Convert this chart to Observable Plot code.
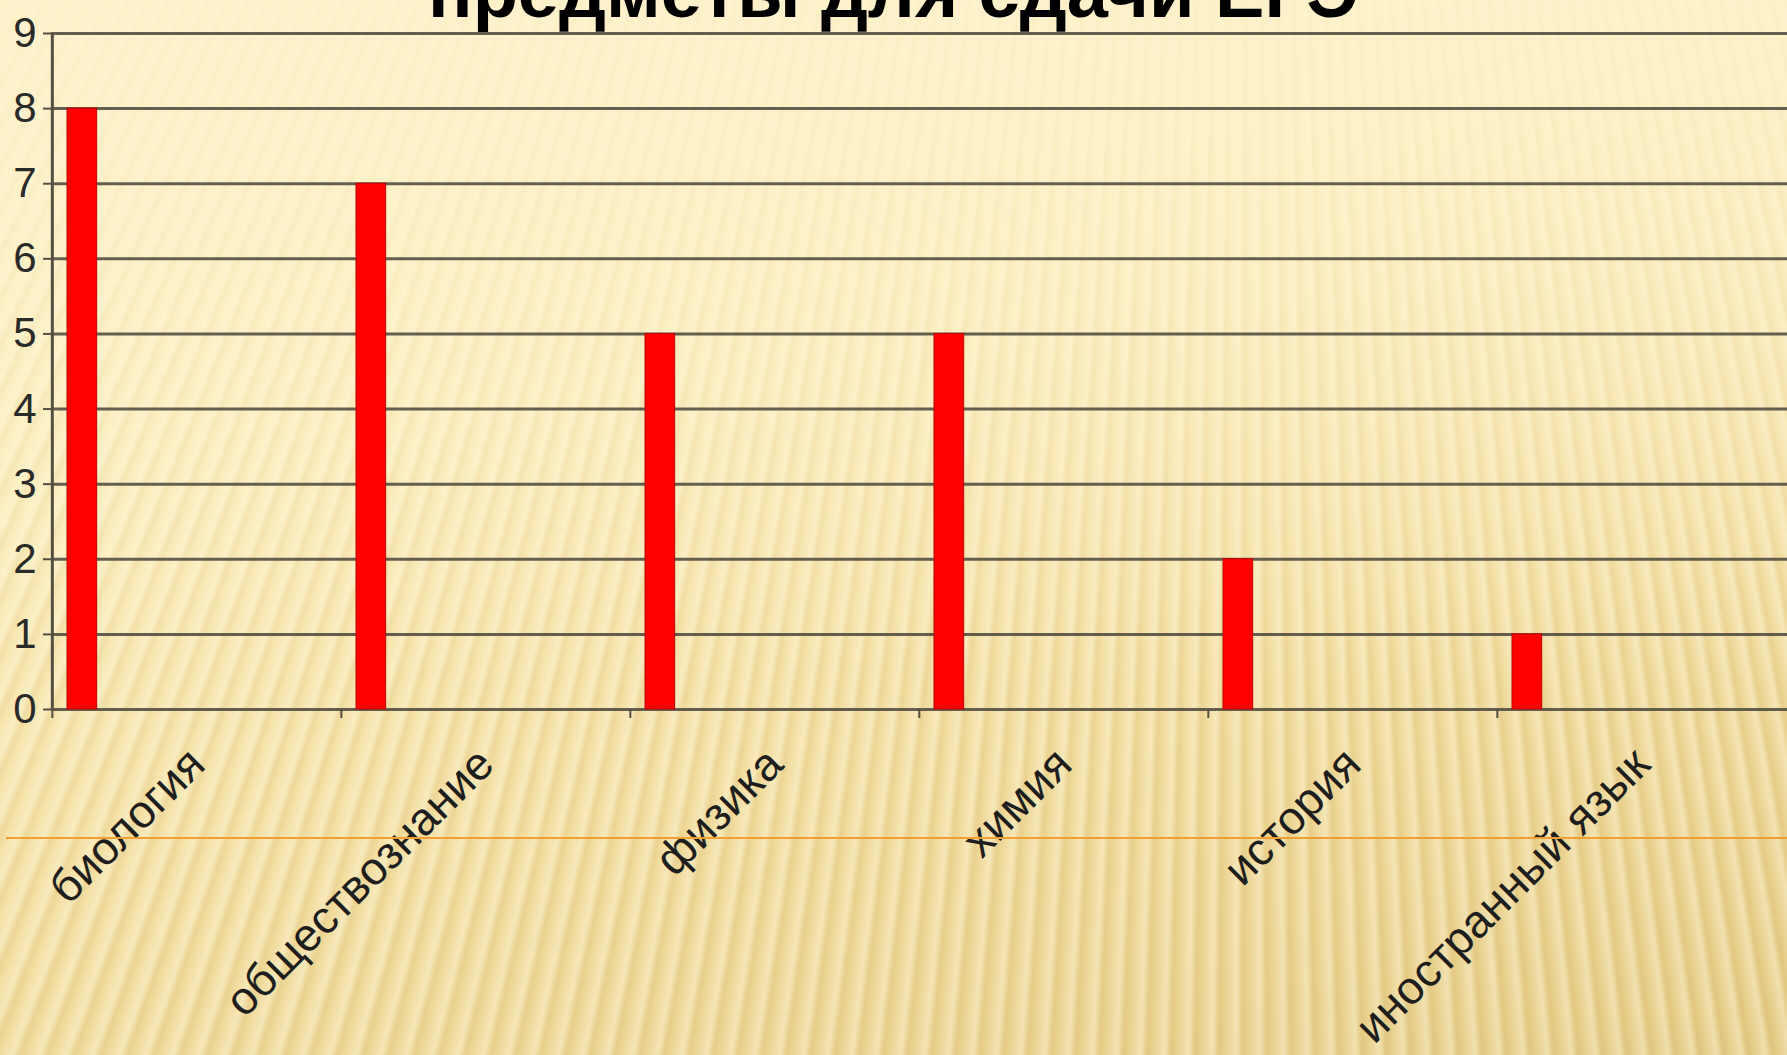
<!DOCTYPE html>
<html><head><meta charset="utf-8">
<script src="https://cdn.jsdelivr.net/npm/d3@7"></script>
<script src="https://cdn.jsdelivr.net/npm/@observablehq/plot@0.6"></script>
<style>
html,body{margin:0;padding:0;width:1787px;height:1055px;overflow:hidden;}
body{position:relative;font-family:"Liberation Sans",Arial,sans-serif;
 background:
  linear-gradient(to bottom, rgba(253,242,204,0.8) 0%, rgba(253,242,204,0.4) 35%, rgba(253,242,204,0) 65%),
  repeating-conic-gradient(from 150deg at 1250px -2200px, rgba(255,250,225,0.45) 0deg, rgba(255,250,225,0.05) 0.2deg, rgba(180,140,50,0.09) 0.3deg, rgba(255,250,225,0.45) 0.42deg),
  linear-gradient(165deg, #fdf1c8 0%, #faeab6 35%, #f1db9c 65%, #e3c982 100%);
}
#chart{position:absolute;left:0;top:0;}
#chart svg{display:block;background:transparent;}
#title{position:absolute;left:0;right:0;top:-45px;text-align:center;font-size:74px;line-height:74px;font-weight:bold;color:#000;margin:0;}
#orange{position:absolute;left:6px;right:0;top:837px;height:2px;background:#f0a033;}
</style></head>
<body>
<div id="chart"></div>
<div id="title"></div>
<div id="orange"></div>
<script>
const title = "предметы для сдачи ЕГЭ";
const subjects = ["биология","обществознание","физика","химия","история","иностранный язык"];
const counts = [8,7,5,5,2,1];
const yTicks = [0,1,2,3,4,5,6,7,8,9];

document.getElementById("title").textContent = title;
const data = subjects.map((s,i)=>({subject:s, count:counts[i]}));
const W=1787, H=1055, mL=51, mT=33, mB=346;
const bw = (W-mL)/subjects.length;
const gridColor = "#534f42";
const chart = Plot.plot({
  width:W, height:H, marginLeft:mL, marginRight:0, marginTop:mT, marginBottom:mB,
  style:{background:"transparent", fontFamily:"'Liberation Sans', Arial, sans-serif", color:"#222"},
  x:{domain:subjects, padding:0, label:null},
  y:{domain:[0,9], label:null},
  marks:[
    Plot.ruleY(yTicks,{y:d=>d, stroke:gridColor, strokeWidth:3, strokeOpacity:0.9}),
    Plot.ruleX([subjects[0]],{x:d=>d, dx:-bw/2, y1:0, y2:9, stroke:gridColor, strokeWidth:3}),
    Plot.ruleX(subjects,{x:d=>d, dx:-bw/2, y1:0, y2:0, insetBottom:-9, stroke:gridColor, strokeWidth:2}),
    Plot.barY(data,{x:"subject", y:"count", fill:"#ff0000", stroke:"#c00000", strokeWidth:1, insetLeft:15, insetRight:bw-45}),
    Plot.axisY({ticks:yTicks, tickSize:8, tickPadding:7, fontSize:42, stroke:gridColor, strokeWidth:2, fill:"#2a2a2a"}),
    Plot.axisX({tickSize:0, tickRotate:-45, tickPadding:47, fontSize:46, fill:"#1e1e1e"})
  ]
});
document.getElementById("chart").appendChild(chart);
</script>
</body></html>
